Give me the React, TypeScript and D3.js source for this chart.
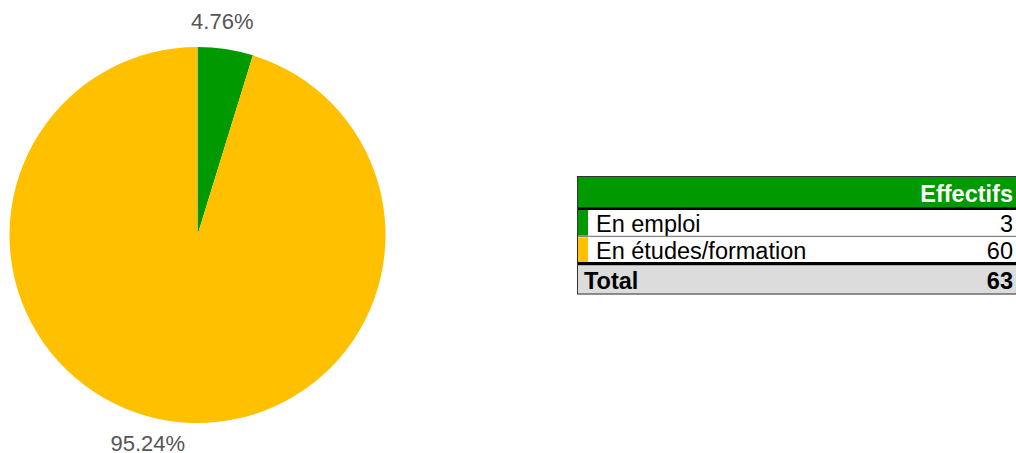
import React from "react";
import * as d3 from "d3";

const categories = ["En emploi", "En études/formation"];
const values = [3, 60];
const colors = ["#009900", "#FFC000"];
const headerLabel = "Effectifs";
const totalLabel = "Total";

const W = 1016;
const H = 453;

export default function App() {
  const total = d3.sum(values);
  const cx = 197.5, cy = 235, r = 188;
  const pie = d3.pie<number>().sort(null).value((d) => d)(values);
  const arc = d3.arc<d3.PieArcDatum<number>>().innerRadius(0).outerRadius(r);
  const fmt = (v: number) => ((v / total) * 100).toFixed(2) + "%";

  // table geometry
  const tx = 577, tw = 450;
  const headerY = 177, headerH = 31;
  const rowY = d3.scaleBand<number>().domain(d3.range(values.length)).range([210, 263]).paddingInner(0.06);
  const totalY = 265, totalH = 29;
  const font = "'Liberation Sans', Arial, sans-serif";
  const fs = 23.5;

  return (
    <svg width={W} height={H} style={{ position: "absolute", left: 0, top: 0 }} fontFamily={font}>
      <g transform={`translate(${cx},${cy})`}>
        {pie.map((p, i) => (
          <path key={i} d={arc(p) || ""} fill={colors[i]} />
        ))}
        {pie.map((p, i) => {
          const mid = (p.startAngle + p.endAngle) / 2;
          const R = 213;
          const x = Math.sin(mid) * R + (Math.sin(mid) >= 0 ? -7 : -18);
          const y = -Math.cos(mid) * R - 2.5;
          return (
            <text key={i} x={x} y={y} textAnchor="middle" dominantBaseline="central" fontSize={22} fill="#555">
              {fmt(values[i])}
            </text>
          );
        })}
      </g>
      <g>
        <rect x={tx} y={headerY} width={tw} height={headerH} fill="#009900" />
        <text x={1013} y={headerY + headerH / 2 + 1} textAnchor="end" dominantBaseline="central" fontSize={fs} fontWeight="bold" fill="#fff">
          {headerLabel}
        </text>
        <rect x={tx} y={headerY + headerH - 0.5} width={tw} height={3.5} fill="#000" />
        {values.map((v, i) => {
          const y0 = rowY(i)!;
          const h = rowY.bandwidth();
          return (
            <g key={i}>
              <rect x={tx} y={y0} width={tw} height={h} fill="#fff" />
              <rect x={tx} y={y0} width={11} height={h} fill={colors[i]} />
              <text x={596} y={y0 + h / 2 + 1} dominantBaseline="central" fontSize={fs} fill="#000">
                {categories[i]}
              </text>
              <text x={1013} y={y0 + h / 2 + 1} textAnchor="end" dominantBaseline="central" fontSize={fs} fill="#000">
                {v}
              </text>
              {i < values.length - 1 && (
                <line x1={tx} x2={tx + tw} y1={y0 + h + 0.75} y2={y0 + h + 0.75} stroke="#888" strokeWidth={1.5} />
              )}
            </g>
          );
        })}
        <rect x={tx} y={262} width={tw} height={3.5} fill="#000" />
        <rect x={tx} y={totalY + 0.5} width={tw} height={totalH} fill="#DCDCDC" />
        <text x={584} y={totalY + totalH / 2 + 1} dominantBaseline="central" fontSize={fs} fontWeight="bold" fill="#000">
          {totalLabel}
        </text>
        <text x={1013} y={totalY + totalH / 2 + 1} textAnchor="end" dominantBaseline="central" fontSize={fs} fontWeight="bold" fill="#000">
          {total}
        </text>
        <rect x={tx + 0.5} y={headerY - 0.5} width={tw} height={294 - headerY + 0.5} fill="none" stroke="#333" strokeWidth={1} />
      </g>
    </svg>
  );
}
